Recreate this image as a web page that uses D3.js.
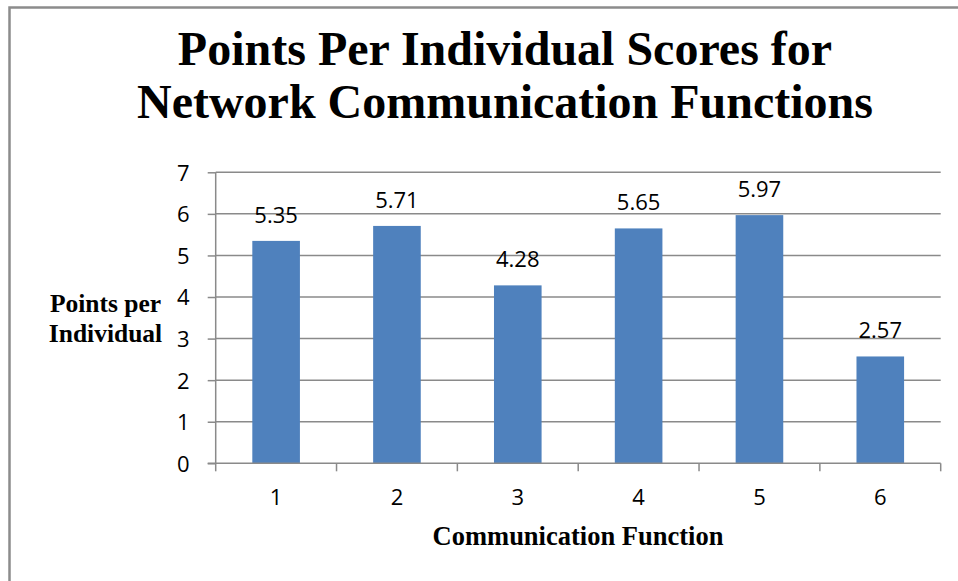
<!DOCTYPE html>
<html>
<head>
<meta charset="utf-8">
<script src="https://cdn.jsdelivr.net/npm/d3@7"></script>
<style>
  html, body { margin: 0; padding: 0; background: #fff; }
  svg { display: block; }
</style>
</head>
<body>
<svg id="chart" width="958" height="581"></svg>
<script>
const categories = ["1", "2", "3", "4", "5", "6"];
const values = [5.35, 5.71, 4.28, 5.65, 5.97, 2.57];
const valueLabels = ["5.35", "5.71", "4.28", "5.65", "5.97", "2.57"];
const yTicks = [0, 1, 2, 3, 4, 5, 6, 7];
const titleLines = ["Points Per Individual Scores for", "Network Communication Functions"];
const yTitleLines = ["Points per", "Individual"];
const xTitle = "Communication Function";

const svg = d3.select("#chart");
const gridColor = "#8a8a8a";
const barColor = "#4f81bd";
const numFont = "'Open Sans', 'Noto Sans', sans-serif";
const serif = "'Liberation Serif', 'Times New Roman', serif";

// chart border
svg.append("rect")
  .attr("x", 9.5).attr("y", 7.5)
  .attr("width", 1000).attr("height", 1000)
  .attr("fill", "none")
  .attr("stroke", "#8c8c8c")
  .attr("stroke-width", 2.5);

const plot = { left: 215.7, right: 940.7, top: 172.3, bottom: 463.3 };

const x = d3.scaleBand()
  .domain(categories)
  .range([plot.left, plot.right])
  .paddingInner(0.606)
  .paddingOuter(0.303);

const y = d3.scaleLinear()
  .domain([0, 7])
  .range([plot.bottom, plot.top]);

// gridlines
svg.append("g")
  .selectAll("line")
  .data(yTicks.filter(d => d > 0))
  .join("line")
  .attr("x1", plot.left).attr("x2", plot.right)
  .attr("y1", d => y(d)).attr("y2", d => y(d))
  .attr("stroke", gridColor)
  .attr("stroke-width", 1.5);

// bars
svg.append("g")
  .selectAll("rect")
  .data(values)
  .join("rect")
  .attr("x", (d, i) => x(categories[i]))
  .attr("width", x.bandwidth())
  .attr("y", d => y(d))
  .attr("height", d => y(0) - y(d))
  .attr("fill", barColor);

// data labels
svg.append("g")
  .selectAll("text")
  .data(values)
  .join("text")
  .attr("x", (d, i) => x(categories[i]) + x.bandwidth() / 2)
  .attr("y", d => y(d) - 18)
  .attr("text-anchor", "middle")
  .attr("font-family", numFont)
  .attr("font-size", 22)
  .attr("fill", "#000")
  .text((d, i) => valueLabels[i]);

// y axis
const yAxis = d3.axisLeft(y)
  .tickValues(yTicks)
  .tickFormat(d3.format("d"))
  .tickSize(8)
  .tickPadding(18);
const gy = svg.append("g")
  .attr("transform", `translate(${plot.left},0)`)
  .call(yAxis);
gy.select(".domain").attr("stroke", gridColor).attr("stroke-width", 1.5)
  .attr("d", `M0,${plot.top}V${plot.bottom}`);
gy.selectAll(".tick line").attr("stroke", gridColor).attr("stroke-width", 1.5);
gy.selectAll(".tick text")
  .attr("font-family", numFont)
  .attr("font-size", 22)
  .attr("fill", "#000")
  .attr("dy", "0.36em");

// x axis
const xAxis = d3.axisBottom(x).tickSize(0).tickPadding(26);
const gx = svg.append("g")
  .attr("transform", `translate(0,${plot.bottom})`)
  .call(xAxis);
gx.select(".domain").attr("stroke", gridColor).attr("stroke-width", 1.5)
  .attr("d", `M${plot.left - 8},0H${plot.right}`);
gx.selectAll(".tick text")
  .attr("font-family", numFont)
  .attr("font-size", 22)
  .attr("fill", "#000");
// category boundary tick marks
const boundaries = d3.range(categories.length + 1).map(i => plot.left + i * x.step());
gx.append("g")
  .selectAll("line")
  .data(boundaries)
  .join("line")
  .attr("x1", d => d).attr("x2", d => d)
  .attr("y1", 0).attr("y2", 8)
  .attr("stroke", gridColor)
  .attr("stroke-width", 1.5);

// title
svg.append("text")
  .attr("x", 505)
  .attr("text-anchor", "middle")
  .attr("font-family", serif)
  .attr("font-weight", "bold")
  .attr("font-size", 48)
  .attr("fill", "#000")
  .selectAll("tspan")
  .data(titleLines)
  .join("tspan")
  .attr("x", 505)
  .attr("y", (d, i) => 65 + i * 53)
  .text(d => d);

// y title
svg.append("text")
  .attr("text-anchor", "middle")
  .attr("font-family", serif)
  .attr("font-weight", "bold")
  .attr("font-size", 25.5)
  .attr("fill", "#000")
  .selectAll("tspan")
  .data(yTitleLines)
  .join("tspan")
  .attr("x", 105.5)
  .attr("y", (d, i) => 311.7 + i * 30)
  .text(d => d);

// x title
svg.append("text")
  .attr("x", 578)
  .attr("y", 545)
  .attr("text-anchor", "middle")
  .attr("font-family", serif)
  .attr("font-weight", "bold")
  .attr("font-size", 26.5)
  .attr("fill", "#000")
  .text(xTitle);
</script>
</body>
</html>
